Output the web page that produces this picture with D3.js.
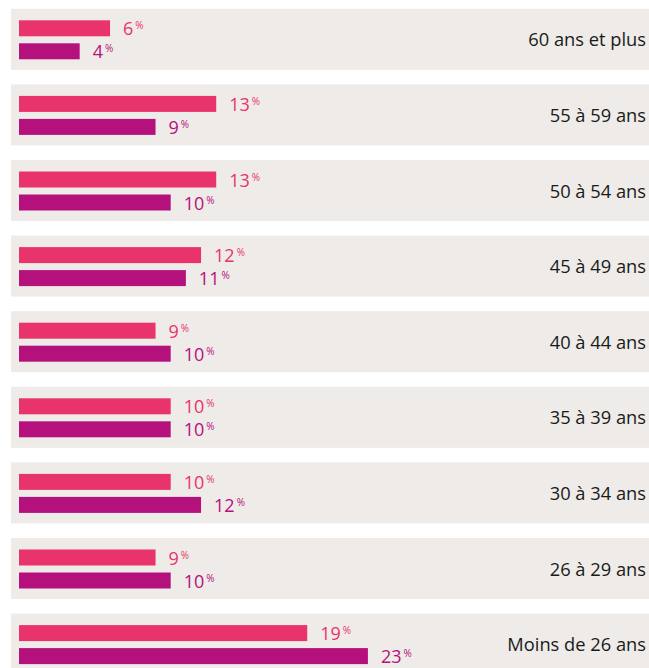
<!DOCTYPE html>
<html>
<head>
<meta charset="utf-8">
<script src="https://cdn.jsdelivr.net/npm/d3@7"></script>
<style>
  html, body { margin: 0; padding: 0; background: #ffffff; }
  svg { display: block; }
</style>
</head>
<body>
<svg id="chart" width="649" height="668"></svg>
<script>
const categories = ["60 ans et plus", "55 à 59 ans", "50 à 54 ans", "45 à 49 ans", "40 à 44 ans", "35 à 39 ans", "30 à 34 ans", "26 à 29 ans", "Moins de 26 ans"];
const seriesA = [6, 13, 13, 12, 9, 10, 10, 9, 19];
const seriesB = [4, 9, 10, 11, 10, 10, 12, 10, 23];
const colorA = "#e8346a";
const colorB = "#b5117c";

const svg = d3.select("#chart");
const W = 649;

const step = 75.6, band = 61;
const y = d3.scaleBand()
  .domain(categories)
  .range([8.8, 8.8 + 8 * step + band])
  .paddingInner((step - band) / step)
  .paddingOuter(0);

const x = d3.scaleLinear().domain([0, 23]).range([19, 19 + 15.17 * 23]);

const rows = categories.map((c, i) => ({ cat: c, a: seriesA[i], b: seriesB[i] }));

const g = svg.selectAll("g.row").data(rows).join("g").attr("class", "row")
  .attr("transform", d => `translate(0,${y(d.cat)})`);

g.append("rect")
  .attr("x", 11).attr("y", 0)
  .attr("width", W - 11).attr("height", y.bandwidth())
  .attr("fill", "#eeebe8");

const font = "'Open Sans', 'Noto Sans', sans-serif";

function addBar(sel, key, color, off) {
  sel.append("rect")
    .attr("x", x(0)).attr("y", off)
    .attr("width", d => x(d[key]) - x(0)).attr("height", 16)
    .attr("fill", color);
  const t = sel.append("text")
    .attr("x", d => x(d[key]) + 13)
    .attr("y", off + 15)
    .attr("fill", color)
    .style("font-family", font)
    .style("font-size", "18px");
  t.append("tspan").text(d => d[key]);
  t.append("tspan").attr("dx", 2).attr("dy", -6)
    .style("font-size", "10px").text("%");
}

addBar(g, "a", colorA, 11.5);
addBar(g, "b", colorB, 34.5);

g.append("text")
  .attr("x", 646)
  .attr("y", y.bandwidth() / 2 + 7)
  .attr("text-anchor", "end")
  .attr("fill", "#1a1a1a")
  .style("font-family", font)
  .style("font-size", "18.3px")
  .text(d => d.cat);
</script>
</body>
</html>
